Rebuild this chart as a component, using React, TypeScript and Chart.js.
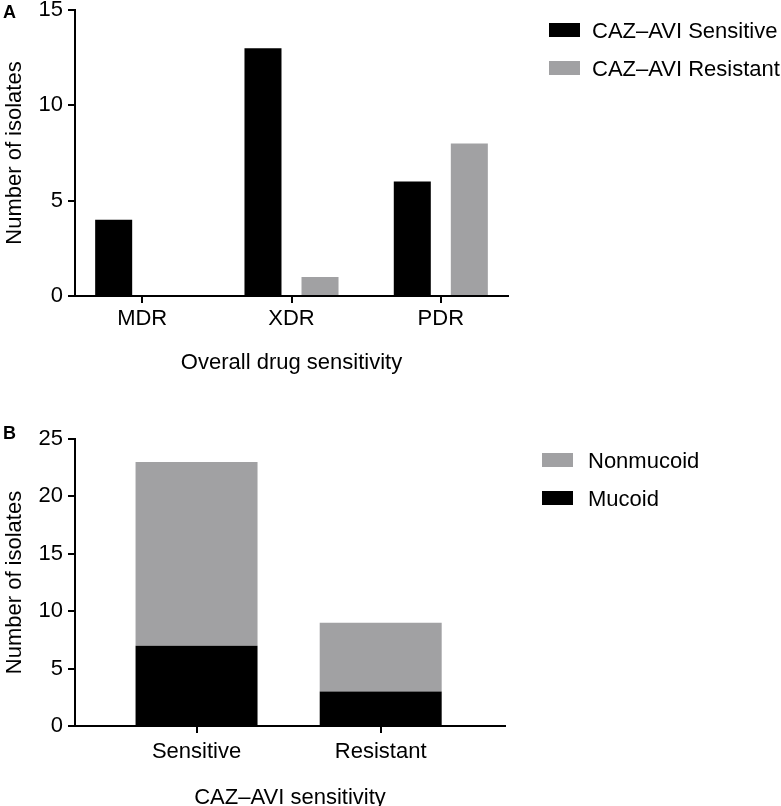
import React, { useEffect, useRef } from 'react';
import { Chart, registerables } from 'chart.js';

Chart.register(...registerables);

// ---------- Data ----------
const categoriesA = ['MDR', 'XDR', 'PDR'];
const cazAviSensitive = [4, 13, 6];
const cazAviResistant = [0, 1, 8];
const yTicksA = [0, 5, 10, 15];

const categoriesB = ['Sensitive', 'Resistant'];
const mucoid = [7, 3];
const nonmucoid = [16, 6];
const yTicksB = [0, 5, 10, 15, 20, 25];

// ---------- Styles ----------
const BLACK = '#000000';
const GRAY = '#a1a1a3';
const FONT = "'Liberation Sans', Arial, Helvetica, sans-serif";
const W = 781;

const legendPlugin = {
  id: 'customLegend',
  afterDraw(chart: any, _args: any, opts: any) {
    const { ctx } = chart;
    ctx.save();
    ctx.font = `22px ${FONT}`;
    ctx.textBaseline = 'alphabetic';
    ctx.textAlign = 'left';
    opts.order.forEach((idx: number, k: number) => {
      const ds = chart.data.datasets[idx];
      const top = opts.top + k * opts.spacing;
      ctx.fillStyle = ds.backgroundColor;
      ctx.fillRect(opts.x, top, 31, 14);
      ctx.fillStyle = BLACK;
      ctx.fillText(ds.label, opts.x + opts.gap, top + 14.5);
    });
    ctx.restore();
  },
};

function xScale(categories: string[], min: number, max: number, height: number, title: string, titlePad: number, tickPad: number, stacked: boolean) {
  return {
    type: 'linear',
    min,
    max,
    bounds: 'data',
    offset: false,
    stacked,
    afterBuildTicks: (scale: any) => {
      scale.ticks = categories.map((_, i) => ({ value: i }));
    },
    afterFit: (scale: any) => {
      scale.height = height;
      scale.paddingLeft = 0;
      scale.paddingRight = 0;
    },
    ticks: {
      callback: (v: any) => categories[v] ?? '',
      font: { size: 22, family: FONT },
      color: BLACK,
      padding: tickPad,
      maxRotation: 0,
      autoSkip: false,
    },
    grid: { display: true, offset: false, drawOnChartArea: false, drawTicks: true, tickLength: 7, lineWidth: 2, color: BLACK },
    border: { display: true, color: BLACK, width: 2 },
    title: { display: true, text: title, color: BLACK, font: { size: 22, family: FONT }, padding: { top: 0, bottom: titlePad } },
  };
}

function yScale(ticks: number[], stacked: boolean) {
  return {
    type: 'linear',
    min: ticks[0],
    max: ticks[ticks.length - 1],
    stacked,
    afterBuildTicks: (scale: any) => {
      scale.ticks = ticks.map((v) => ({ value: v }));
    },
    afterFit: (scale: any) => {
      scale.width = 75;
      scale.paddingTop = 0;
      scale.paddingBottom = 0;
    },
    ticks: { font: { size: 22, family: FONT }, color: BLACK, padding: 5, callback: (v: any) => String(v) },
    grid: { display: true, drawOnChartArea: false, drawTicks: true, tickLength: 7, lineWidth: 2, color: BLACK },
    border: { display: true, color: BLACK, width: 2 },
    title: { display: true, text: 'Number of isolates', color: BLACK, font: { size: 22, family: FONT }, padding: { top: 2, bottom: 0 } },
  };
}

function configA(): any {
  return {
    type: 'bar',
    data: {
      datasets: [
        {
          label: 'CAZ–AVI Sensitive',
          data: cazAviSensitive.map((y, i) => ({ x: i, y })),
          backgroundColor: BLACK,
          borderWidth: 0,
          categoryPercentage: 0.764,
          barPercentage: 0.649,
        },
        {
          label: 'CAZ–AVI Resistant',
          data: cazAviResistant.map((y, i) => ({ x: i, y })),
          backgroundColor: GRAY,
          borderWidth: 0,
          categoryPercentage: 0.764,
          barPercentage: 0.649,
        },
      ],
    },
    options: {
      responsive: false,
      maintainAspectRatio: false,
      animation: false,
      devicePixelRatio: 1,
      layout: { padding: { top: 10, left: 0, right: W - 508, bottom: 0 } },
      scales: {
        x: xScale(categoriesA, -0.45, 2.45, 104, 'Overall drug sensitivity', 24, 3, false),
        y: yScale(yTicksA, false),
      },
      plugins: {
        legend: { display: false },
        tooltip: { enabled: false },
        customLegend: { order: [0, 1], x: 549, top: 23, spacing: 38, gap: 43 },
      },
    },
    plugins: [legendPlugin],
  };
}

function configB(): any {
  return {
    type: 'bar',
    data: {
      datasets: [
        {
          label: 'Mucoid',
          data: mucoid.map((y, i) => ({ x: i, y })),
          backgroundColor: BLACK,
          borderWidth: 0,
          categoryPercentage: 0.8,
          barPercentage: 0.828,
        },
        {
          label: 'Nonmucoid',
          data: nonmucoid.map((y, i) => ({ x: i, y })),
          backgroundColor: GRAY,
          borderWidth: 0,
          categoryPercentage: 0.8,
          barPercentage: 0.828,
        },
      ],
    },
    options: {
      responsive: false,
      maintainAspectRatio: false,
      animation: false,
      devicePixelRatio: 1,
      layout: { padding: { top: 39, left: 0, right: W - 505, bottom: 0 } },
      scales: {
        x: xScale(categoriesB, -0.66, 1.675, 94, 'CAZ–AVI sensitivity', 9, 6, true),
        y: yScale(yTicksB, true),
      },
      plugins: {
        legend: { display: false },
        tooltip: { enabled: false },
        customLegend: { order: [1, 0], x: 542, top: 53, spacing: 38, gap: 46 },
      },
    },
    plugins: [legendPlugin],
  };
}

function ChartCanvas({ make, top, height }: { make: () => any; top: number; height: number }) {
  const ref = useRef<HTMLCanvasElement | null>(null);
  useEffect(() => {
    if (!ref.current) return;
    const chart = new Chart(ref.current, make());
    return () => chart.destroy();
  }, [make]);
  return (
    <canvas
      ref={ref}
      width={W}
      height={height}
      style={{ position: 'absolute', left: 0, top, width: W, height }}
    />
  );
}

const panelLabel: React.CSSProperties = {
  position: 'absolute',
  left: 3,
  font: `bold 18px ${FONT}`,
  lineHeight: '18px',
  color: BLACK,
};

export default function App() {
  return (
    <div
      style={{
        position: 'fixed',
        left: 0,
        top: 0,
        width: W,
        height: 806,
        overflow: 'hidden',
        background: '#ffffff',
      }}
    >
      <ChartCanvas make={configA} top={0} height={400} />
      <ChartCanvas make={configB} top={400} height={420} />
      <div style={{ ...panelLabel, top: 3 }}>A</div>
      <div style={{ ...panelLabel, top: 424 }}>B</div>
    </div>
  );
}
